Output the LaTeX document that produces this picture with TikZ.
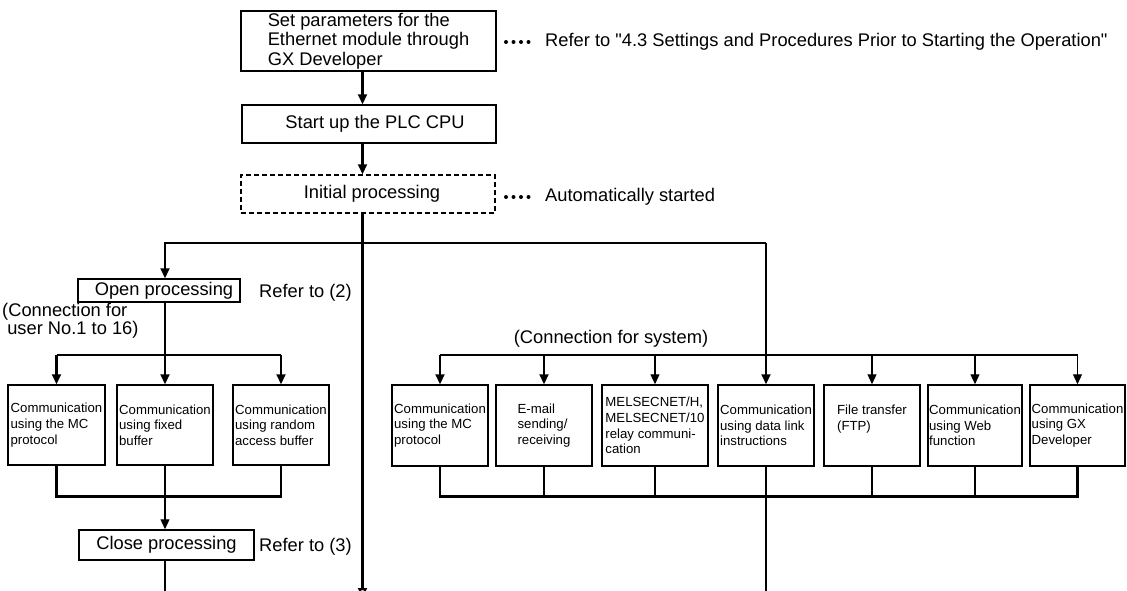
\documentclass[tikz,border=0pt]{standalone}
\usepackage{fontspec}
\setmainfont{Liberation Sans}
\usetikzlibrary{arrows.meta}
\tikzset{
  bx/.style={draw, line width=1.5pt, inner sep=0pt, fill=white},
  bigtxt/.style={font=\fontsize{18.3}{19.5}\selectfont},
  smtxt/.style={font=\fontsize{13.2}{15.7}\selectfont},
  ubox/.style={bx, smtxt, minimum height=80pt, align=left},
  sbox/.style={bx, smtxt, minimum height=81pt, align=left},
  lbl/.style={bigtxt, anchor=west, inner sep=0pt},
  thk/.style={line width=2.1pt},
  thn/.style={line width=1.1pt},
  arr/.style={-{Triangle[length=10pt,width=9pt]}},
}
\begin{document}
\begin{tikzpicture}[x=1pt,y=-1pt]
\fill[white] (0,0) rectangle (1127,590);
\useasboundingbox (0,0) rectangle (1127,590);

% top chain
\node[bx, bigtxt, minimum width=255pt, minimum height=60pt, align=left] (p1) at (368.5,41) {Set parameters for the\\Ethernet module through\\GX Developer};
\node[bx, bigtxt, minimum width=254pt, minimum height=38pt] (p2) at (369,124) {\hspace*{12pt}Start up the PLC CPU};
\node[bx, bigtxt, dash pattern=on 5pt off 3pt, minimum width=254pt, minimum height=38pt] (p3) at (368,194) {\hspace*{8pt}Initial processing};

\foreach \i in {0,...,3} \fill ({506+7.5*\i},42) circle (2pt);
\node[lbl] (r1) at (545,42) {Refer to \textquotedbl 4.3 Settings and Procedures Prior to Starting the Operation\textquotedbl};
\foreach \i in {0,...,3} \fill ({506+7.5*\i},197) circle (2pt);
\node[lbl] (r2) at (545,197) {Automatically started};

% user side
\node[bx, bigtxt, minimum width=162pt, minimum height=23pt] (op) at (159,290.5) {\hspace*{10pt}Open processing};
\node[lbl] (r3) at (259,293) {Refer to (2)};
\node[bigtxt, font=\fontsize{18.3}{15.5}\selectfont, anchor=north west, inner sep=0pt, align=left] (cu) at (2,303) {(Connection for\\\ user No.1 to 16)};

\node[ubox, minimum width=97pt] (uA) at (56.5,425) {Communication\\using the MC\\protocol};
\node[ubox, minimum width=96pt] (uB) at (165,425) {Communication\\using fixed\\buffer};
\node[ubox, minimum width=96pt] (uC) at (281,425) {Communication\\using random\\access buffer};

\node[bx, bigtxt, minimum width=175pt, minimum height=30pt] (cl) at (166.5,545) {Close processing};
\node[lbl] (r4) at (259,547) {Refer to (3)};

% system side
\node[bigtxt] (cs) at (611,339) {(Connection for system)};
\node[sbox, minimum width=96pt] (s1) at (440,425.5) {Communication\\using the MC\\protocol};
\node[sbox, minimum width=96pt] (s2) at (544,425.5) {E-mail\\sending/\\receiving};
\node[sbox, minimum width=106pt] (s3) at (655,425.5) {MELSECNET/H,\\MELSECNET/10\\relay communi-\\cation};
\node[sbox, minimum width=96pt] (s4) at (766,425.5) {Communication\\using data link\\instructions};
\node[sbox, minimum width=96pt] (s5) at (872,425.5) {File transfer\\(FTP)\\\mbox{}};
\node[sbox, minimum width=94pt] (s6) at (975,425.5) {Communication\\using Web\\function};
\node[sbox, minimum width=95pt] (s7) at (1077.5,425.5) {Communication\\using GX\\Developer};

% helper coordinates
\coordinate (sp) at (362.5,0);
\coordinate (spb) at (362.5,598);
\coordinate (hl) at (165,243);
\coordinate (hr) at (766,243);
\coordinate (ub) at (0,355);
\coordinate (lb) at (0,496.5);
\coordinate (clb) at (165,595);
\coordinate (s4b) at (766,595);

% connectors top
\draw[thk, arr] (p1.south -| sp) -- (p2.north -| sp);
\draw[thk, arr] (p2.south -| sp) -- (p3.north -| sp);
\draw[thk, -{Triangle[open,length=10pt,width=9pt]}] (p3.south -| sp) -- (spb);
\draw[thk, arr] (hr) -- (hl) -- (op.north -| hl);
\draw[thk, arr] (hr) -- (s4.north);

% user connectors
\draw[thk, arr] (op.south -| hl) -- (uB.north);
\draw[thk] (uA.north |- ub) -- (uC.north |- ub);
\draw[thk, arr] (uA.north |- ub) -- (uA.north);
\draw[thk, arr] (uC.north |- ub) -- (uC.north);
\draw[thk] (uA.south) -- (uA.south |- lb) -- (uC.south |- lb) -- (uC.south);
\draw[thn, arr] (uB.south) -- (cl.north -| uB.south);
\draw[thk] (cl.south -| clb) -- (clb);

% system connectors
\draw[thk] (s1.north |- ub) -- (s7.north |- ub);
\draw[thk, arr] (s1.north |- ub) -- (s1.north);
\draw[thk, arr] (s2.north |- ub) -- (s2.north);
\draw[thn, arr] (s3.north |- ub) -- (s3.north);
\draw[thn, arr] (s5.north |- ub) -- (s5.north);
\draw[thn, arr] (s6.north |- ub) -- (s6.north);
\draw[thn, arr] (s7.north |- ub) -- (s7.north);
\draw[thk] (s1.south) -- (s1.south |- lb) -- (s7.south |- lb) -- (s7.south);
\draw[thn] (s2.south) -- (s2.south |- lb);
\draw[thk] (s3.south) -- (s3.south |- lb);
\draw[thn] (s5.south) -- (s5.south |- lb);
\draw[thn] (s6.south) -- (s6.south |- lb);
\draw[thn] (s4.south) -- (s4b);
\end{tikzpicture}
\end{document}
